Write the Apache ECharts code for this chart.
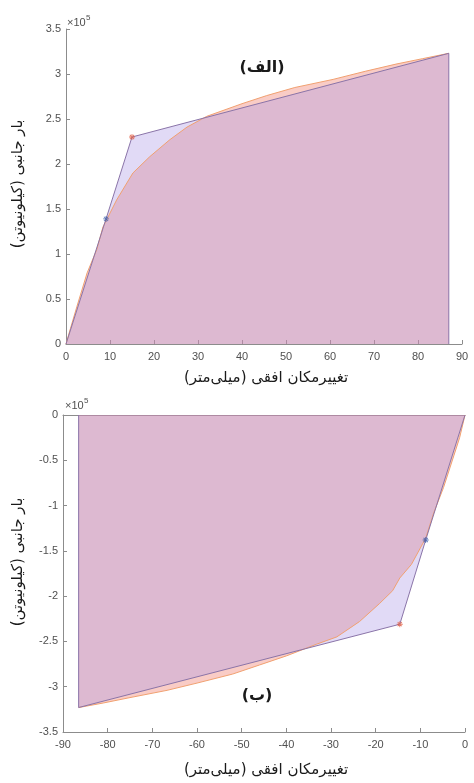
<!DOCTYPE html>
<html>
<head>
<meta charset="utf-8">
<script src="https://cdn.jsdelivr.net/npm/echarts@6/dist/echarts.min.js"></script>
<style>
html,body{margin:0;padding:0;background:#fff;}
#chart{width:474px;height:783px;}
</style>
</head>
<body>
<div id="chart"></div>
<script>
// داده‌ها (بار بر حسب 1e5 کیلونیوتن)
var topCurveX = [0, 1, 2.5, 4.8, 7, 8.4, 11.5, 15.2, 19, 23.6, 27.5, 32, 40, 45.6, 52, 60.7, 68, 75, 81, 87];
var topCurveY = [0, 0.17, 0.42, 0.79, 1.05, 1.3, 1.6, 1.9, 2.08, 2.27, 2.41, 2.53, 2.67, 2.76, 2.85, 2.94, 3.03, 3.11, 3.17, 3.23];
var topBiX = [0, 9.1, 15, 87, 87];
var topBiY = [0, 1.39, 2.30, 3.23, 0];

var botCurveX = [0, -1.2, -2.5, -4.8, -7, -8.8, -12, -14.6, -16.2, -19.1, -23.6, -28.7, -33.2, -40, -46, -52, -60, -66.7, -75, -81, -86.5];
var botCurveY = [0, -0.25, -0.45, -0.8, -1.08, -1.36, -1.65, -1.8, -1.94, -2.08, -2.28, -2.45, -2.53, -2.66, -2.76, -2.86, -2.96, -3.04, -3.12, -3.18, -3.23];
var botBiX = [-86.5, -86.5, -14.6, -8.8, 0];
var botBiY = [0, -3.23, -2.31, -1.38, 0];

var yielPt = [[9.1, 1.39], [-8.8, -1.38]];
var maxPt = [[15, 2.30], [-14.6, -2.31]];

var xLabel = '\u200Fتغییرمکان افقی (میلی\u200Cمتر)\u200F';
var yLabel = '\u200Fبار جانبی (کیلونیوتن)\u200F';

function pairs(xs, ys){
	var out = [];
	for(var i=0;i<xs.length;i++){
		out.push([xs[i], ys[i]*1e5]);
	}
	return out;
}

var star = 'path://M4.3,0h1.4v10h-1.4z M0,4.3h10v1.4h-10z M1,2L2,1L9,8L8,9z M9,2L8,1L1,8L2,9z';
var axCol = '#8c8c8c';
var lblCol = '#505050';
var fnt = '"Liberation Sans", Arial, sans-serif';
var faFont = '"DejaVu Sans", sans-serif';

function valAxis(grid, min, max, interval, isY){
	return {
		type: 'value', gridIndex: grid, min: min, max: max, interval: interval,
		axisLine: {show: true, onZero: false, lineStyle: {color: axCol, width: 1}},
		axisTick: {show: true, inside: true, length: 4, lineStyle: {color: axCol}},
		splitLine: {show: false},
		axisLabel: {
			color: lblCol, fontFamily: fnt, fontSize: 11, margin: isY ? 5 : 7,
			formatter: isY ? function(v){ return String(Math.round(v/1e4)/10); } : null
		}
	};
}

var curveLine = {color: '#f0a070', width: 1};
var curveArea = {color: 'rgb(238,120,105)', opacity: 0.38};
var biLine = {color: '#8a74a8', width: 1};
var biArea = {color: 'rgb(170,150,230)', opacity: 0.35};

var myChart = echarts.init(document.getElementById('chart'), null, {renderer: 'canvas'});
var option = {
	animation: false,
	backgroundColor: '#fff',
	grid: [
		{left: 66, right: 12, top: 29, height: 315},
		{left: 63, right: 9, top: 415, height: 317}
	],
	xAxis: [
		valAxis(0, 0, 90, 10, false),
		valAxis(1, -90, 0, 10, false),
		{type: 'value', gridIndex: 1, position: 'top', min: -90, max: 0,
		 axisLine: {show: true, onZero: false, lineStyle: {color: axCol}},
		 axisTick: {show: false}, axisLabel: {show: false}, splitLine: {show: false}}
	],
	yAxis: [
		valAxis(0, 0, 350000, 50000, true),
		valAxis(1, -350000, 0, 50000, true)
	],
	series: [
		{type: 'line', xAxisIndex: 0, yAxisIndex: 0, data: pairs(topCurveX, topCurveY),
		 showSymbol: false, lineStyle: curveLine, areaStyle: curveArea},
		{type: 'line', xAxisIndex: 0, yAxisIndex: 0, data: pairs(topBiX, topBiY),
		 showSymbol: false, lineStyle: biLine, areaStyle: biArea},
		{type: 'line', xAxisIndex: 1, yAxisIndex: 1, data: pairs(botCurveX, botCurveY),
		 showSymbol: false, lineStyle: curveLine, areaStyle: curveArea},
		{type: 'line', xAxisIndex: 1, yAxisIndex: 1, data: pairs(botBiX, botBiY),
		 showSymbol: false, lineStyle: biLine, areaStyle: biArea},
		{type: 'scatter', xAxisIndex: 0, yAxisIndex: 0, symbol: star, symbolSize: 6,
		 data: [[yielPt[0][0], yielPt[0][1]*1e5]], itemStyle: {color: '#3558a8'}, z: 5},
		{type: 'scatter', xAxisIndex: 0, yAxisIndex: 0, symbol: star, symbolSize: 6,
		 data: [[maxPt[0][0], maxPt[0][1]*1e5]], itemStyle: {color: '#e05a40'}, z: 5},
		{type: 'scatter', xAxisIndex: 1, yAxisIndex: 1, symbol: star, symbolSize: 6,
		 data: [[yielPt[1][0], yielPt[1][1]*1e5]], itemStyle: {color: '#3558a8'}, z: 5},
		{type: 'scatter', xAxisIndex: 1, yAxisIndex: 1, symbol: star, symbolSize: 6,
		 data: [[maxPt[1][0], maxPt[1][1]*1e5]], itemStyle: {color: '#e05a40'}, z: 5}
	],
	graphic: [
		// ضریب ×10^5
		{type: 'text', left: 67, top: 17, style: {text: '×10', fill: lblCol, font: '11px ' + fnt}},
		{type: 'text', left: 86, top: 14, style: {text: '5', fill: lblCol, font: '8px ' + fnt}},
		{type: 'text', left: 65, top: 400, style: {text: '×10', fill: lblCol, font: '11px ' + fnt}},
		{type: 'text', left: 84, top: 397, style: {text: '5', fill: lblCol, font: '8px ' + fnt}},
		// عنوان‌ها
		{type: 'text', x: 262, y: 68, style: {text: '\u200F(الف)\u200F', fill: '#1a1a1a', font: 'bold 16px ' + faFont, align: 'center', verticalAlign: 'middle'}},
		{type: 'text', x: 257, y: 696, style: {text: '\u200F(ب)\u200F', fill: '#1a1a1a', font: 'bold 16px ' + faFont, align: 'center', verticalAlign: 'middle'}},
		// محورها
		{type: 'text', x: 266, y: 378, style: {text: xLabel, fill: '#1a1a1a', font: '15px ' + faFont, align: 'center', verticalAlign: 'middle'}},
		{type: 'text', x: 266, y: 770, style: {text: xLabel, fill: '#1a1a1a', font: '15px ' + faFont, align: 'center', verticalAlign: 'middle'}},
		{type: 'text', x: 18, y: 184, rotation: Math.PI/2, style: {text: yLabel, fill: '#1a1a1a', font: '15px ' + faFont, align: 'center', verticalAlign: 'middle'}},
		{type: 'text', x: 18, y: 562, rotation: Math.PI/2, style: {text: yLabel, fill: '#1a1a1a', font: '15px ' + faFont, align: 'center', verticalAlign: 'middle'}}
	]
};
myChart.setOption(option, true);
</script>
</body>
</html>
